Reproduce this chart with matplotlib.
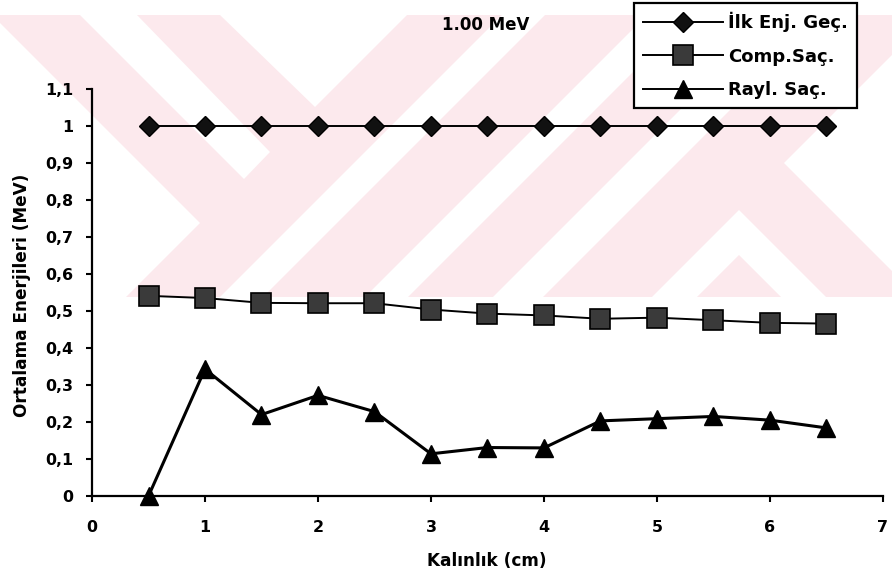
import matplotlib
matplotlib.use('Agg')
import matplotlib.pyplot as plt
from matplotlib.patches import Polygon, Rectangle

# kalınlık (cm) ve ortalama enerjiler (MeV), 1.00 MeV kaynak
thickness = [0.5, 1.0, 1.5, 2.0, 2.5, 3.0, 3.5, 4.0, 4.5, 5.0, 5.5, 6.0, 6.5]
ilk_enj = [1.0, 1.0, 1.0, 1.0, 1.0, 1.0, 1.0, 1.0, 1.0, 1.0, 1.0, 1.0, 1.0]
comp_sac = [0.541, 0.535, 0.522, 0.521, 0.521, 0.504, 0.493, 0.488, 0.479,
            0.482, 0.475, 0.468, 0.466]
rayl_sac = [0.0, 0.343, 0.220, 0.272, 0.228, 0.114, 0.131, 0.130, 0.203,
            0.209, 0.215, 0.205, 0.184]

series_labels = ['İlk Enj. Geç.', 'Comp.Saç.', 'Rayl. Saç.']
x_ticks = [0, 1, 2, 3, 4, 5, 6, 7]
y_ticks = [0, 0.1, 0.2, 0.3, 0.4, 0.5, 0.6, 0.7, 0.8, 0.9, 1.0, 1.1]
y_tick_labels = ['0', '0,1', '0,2', '0,3', '0,4', '0,5', '0,6', '0,7',
                 '0,8', '0,9', '1', '1,1']

W, H = 892, 583
plt.rcParams['font.family'] = 'DejaVu Sans'
plt.rcParams['font.weight'] = 'bold'

fig = plt.figure(figsize=(W / 100, H / 100), dpi=100)


def px(pts):
    # pixel coords (from top-left) -> figure fraction
    return [(x / W, 1 - y / H) for x, y in pts]


# pink page watermark behind the chart
pink = '#fce9ed'
fig.add_artist(Rectangle((0, 1 - 297 / H), 1, (297 - 15) / H,
                         transform=fig.transFigure, color=pink, lw=0, zorder=-3))
gaps = [
    [(0, 23), (200, 223), (126, 297), (0, 297)],
    [(80, 15), (137, 15), (270, 152), (244, 179)],
    [(220, 15), (407, 15), (315, 107)],
    [(502, 15), (545, 15), (263, 297), (220, 297)],
    [(647, 15), (690, 15), (408, 297), (365, 297)],
    [(775, 15), (825, 15), (543, 297), (493, 297)],
    [(784, 163), (892, 55), (892, 271)],
    [(739, 210), (826, 297), (652, 297)],
]
for g in gaps:
    fig.add_artist(Polygon(px(g), closed=True, transform=fig.transFigure,
                           color='white', lw=0, zorder=-2))
fig.add_artist(Polygon(px([(739, 255), (781, 297), (697, 297)]), closed=True,
                       transform=fig.transFigure, color=pink, lw=0, zorder=-1))
fig.add_artist(Polygon(px([(669, 283), (683, 297), (655, 297)]), closed=True,
                       transform=fig.transFigure, color='white', lw=0, zorder=-1))

ax = fig.add_axes([92 / W, 1 - 496 / H, (883 - 92) / W, (496 - 89) / H])
ax.patch.set_alpha(0)

ax.plot(thickness, ilk_enj, color='black', lw=1.4, marker='D', ms=10.5,
        mfc='#111111', mec='black', label=series_labels[0], clip_on=False)
ax.plot(thickness, comp_sac, color='black', lw=1.4, marker='s', ms=14,
        mfc='#3a3a3a', mec='black', mew=1.2, label=series_labels[1], clip_on=False)
ax.plot(thickness, rayl_sac, color='black', lw=2.2, marker='^', ms=13.5,
        mfc='black', mec='black', label=series_labels[2], clip_on=False)

ax.set_xlim(0, 7)
ax.set_ylim(0, 1.1)
ax.set_xticks(x_ticks)
ax.set_xticklabels([str(t) for t in x_ticks])
ax.set_yticks(y_ticks)
ax.set_yticklabels(y_tick_labels)

for side in ['top', 'right']:
    ax.spines[side].set_visible(False)
for side in ['left', 'bottom']:
    ax.spines[side].set_linewidth(1.6)
ax.tick_params(axis='both', direction='out', length=4.5, width=1.5,
               labelsize=11.4, colors='black')
ax.tick_params(axis='y', pad=9)
ax.tick_params(axis='x', pad=13)

fig.text(486 / W, 1 - 25 / H, '1.00 MeV', ha='center', va='center',
         fontsize=12, fontweight='bold')
fig.text(22 / W, 1 - 295 / H, 'Ortalama Enerjileri (MeV)', rotation=90,
         ha='center', va='center', fontsize=12.2, fontweight='bold')
fig.text(487 / W, 1 - 561 / H, 'Kalınlık (cm)', ha='center', va='center',
         fontsize=12.2, fontweight='bold')

leg = ax.legend(loc='upper right', bbox_to_anchor=(857 / W, 1 - 3 / H),
                bbox_transform=fig.transFigure, borderaxespad=0,
                fontsize=13, handlelength=4.4, handletextpad=0.3,
                labelspacing=0.85, borderpad=0.5, fancybox=False,
                framealpha=1, edgecolor='black')
leg.get_frame().set_linewidth(1.6)
for line in leg.get_lines():
    line.set_linewidth(1.4)

fig.savefig('out.png', dpi=100)
